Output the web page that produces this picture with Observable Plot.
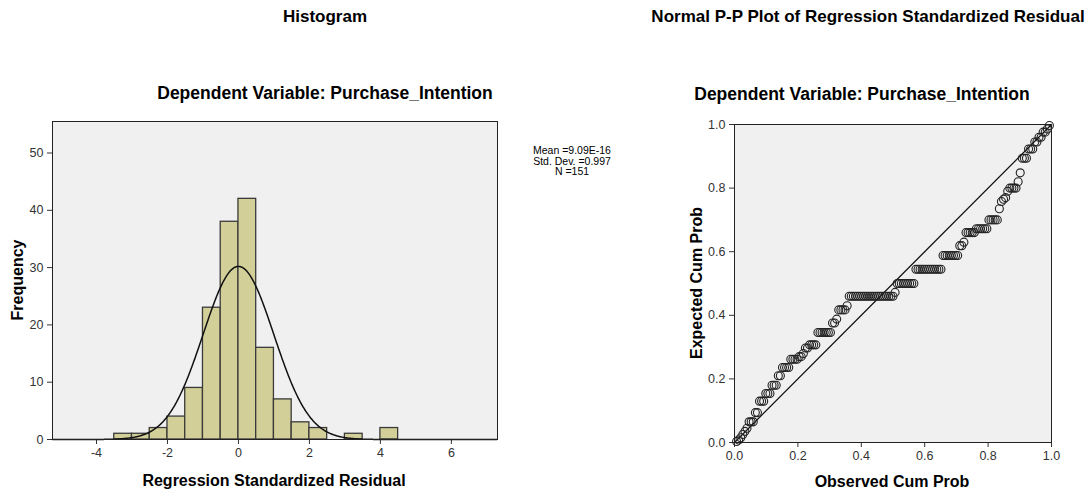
<!DOCTYPE html>
<html><head><meta charset="utf-8">
<script src="https://cdn.jsdelivr.net/npm/d3@7"></script>
<script src="https://cdn.jsdelivr.net/npm/@observablehq/plot@0.6"></script>
<style>
body{margin:0;background:#fff;font-family:"Liberation Sans",Arial,sans-serif;}
#wrap{position:relative;width:1092px;height:491px;overflow:hidden;background:#fff;}
.t{position:absolute;white-space:nowrap;font-weight:bold;color:#000;line-height:1;}
.c{transform:translateX(-50%);}
.r{transform:translate(-50%,-50%) rotate(-90deg);}
.plotbox{position:absolute;}
#legend{position:absolute;left:572px;top:145px;transform:translateX(-50%);text-align:center;font-size:10.5px;line-height:10.5px;color:#000;white-space:nowrap;}
</style></head><body>
<div id="wrap">
  <div class="t c" style="left:325px;top:8px;font-size:17px;">Histogram</div>
  <div class="t c" style="left:868px;top:8px;font-size:17px;">Normal P-P Plot of Regression Standardized Residual</div>
  <div class="t c" style="left:325px;top:85px;font-size:17.5px;">Dependent Variable: Purchase_Intention</div>
  <div class="t c" style="left:862px;top:86px;font-size:17.5px;">Dependent Variable: Purchase_Intention</div>
  <div class="t r" style="left:18px;top:280px;font-size:16px;">Frequency</div>
  <div class="t c" style="left:274px;top:473px;font-size:16px;">Regression Standardized Residual</div>
  <div class="t r" style="left:697px;top:283px;font-size:16px;">Expected Cum Prob</div>
  <div class="t c" style="left:892px;top:474px;font-size:16px;">Observed Cum Prob</div>
  <div id="legend"></div>
  <div id="hist" class="plotbox" style="left:0;top:100px;"></div>
  <div id="pp" class="plotbox" style="left:680px;top:100px;"></div>
</div>
<script>
// ---- Histogram data ----
const binEdges = [-3.5,-3,-2.5,-2,-1.5,-1,-0.5,0,0.5,1,1.5,2,2.5,3,3.5,4,4.5];
const binCounts = [1,1,2,4,9,23,38,42,16,7,3,2,0,1,0,2];
const meanVal = 9.09e-16;
const sdVal = 0.997;
const nVal = 151;
const legendLines = ["Mean =9.09E-16", "Std. Dev. =0.997", "N =151"];
const histXTicks = [-4,-2,0,2,4,6];
const histYTicks = [0,10,20,30,40,50];

// ---- P-P plot data: expected cum prob values (sorted) and how many points share each ----
const ppRunValues = [0.003,0.008,0.015,0.025,0.035,0.045,0.065,0.094,0.13,0.154,0.18,0.21,0.236,0.262,0.27,0.28,0.297,0.307,0.346,0.376,0.388,0.417,0.43,0.46,0.472,0.50,0.545,0.588,0.619,0.63,0.66,0.672,0.70,0.735,0.758,0.765,0.77,0.79,0.80,0.82,0.848,0.894,0.923,0.945,0.96,0.976,0.986,0.997];
const ppRunCounts = [1,1,1,1,1,1,3,2,3,3,3,2,4,4,2,1,2,4,7,2,1,4,1,22,1,9,13,8,2,1,5,6,5,1,1,1,1,1,4,1,1,3,3,2,2,2,1,1];
const ppTicks = [0,0.2,0.4,0.6,0.8,1.0];

document.getElementById("legend").innerHTML = legendLines.join("<br>");

const bins = binCounts.map((c,i)=>({x1:binEdges[i], x2:binEdges[i+1], count:c})).filter(d=>d.count>0);
const binW = binEdges[1]-binEdges[0];
const curve = d3.range(-5.24, 7.3, 0.02).map(x=>({x, y: nVal*binW*Math.exp(-0.5*((x-meanVal)/sdVal)**2)/(sdVal*Math.sqrt(2*Math.PI))}));

const axisStyle = {fontFamily:"'Liberation Sans',Arial,sans-serif", fontSize:"12.5px", color:"#333", background:"transparent", overflow:"visible"};

const hist = Plot.plot({
  width: 520, height: 391,
  marginLeft: 52, marginRight: 23, marginTop: 21, marginBottom: 52,
  style: axisStyle,
  x: {domain: [-5.24, 7.3], ticks: histXTicks, tickSize: 5, tickFormat: d=>String(d), label: null},
  y: {domain: [0, 55.5], ticks: histYTicks, tickSize: 5, label: null},
  marks: [
    Plot.frame({fill:"#f0f0f0"}),
    Plot.rectY(bins, {x1:"x1", x2:"x2", y:"count", fill:"#d3cf98", stroke:"#3a3a3a", strokeWidth:1.3}),
    Plot.line(curve, {x:"x", y:"y", stroke:"#111", strokeWidth:1.5}),
    Plot.frame({stroke:"#222"})
  ]
});
document.getElementById("hist").appendChild(hist);

const ppData = [];
ppRunValues.forEach((v,k)=>{ for(let j=0;j<ppRunCounts[k];j++) ppData.push({exp:v}); });
const nPP = ppData.length;
ppData.forEach((d,i)=>{ d.obs = (i+1)/(nPP+1); });
const diag = [{x:0,y:0},{x:1,y:1}];

const pp = Plot.plot({
  width: 412, height: 391,
  marginLeft: 54, marginRight: 41, marginTop: 24, marginBottom: 49,
  style: axisStyle,
  x: {domain:[0,1], ticks: ppTicks, tickFormat: d3.format(".1f"), tickSize:5, label:null},
  y: {domain:[0,1], ticks: ppTicks, tickFormat: d3.format(".1f"), tickSize:5, label:null},
  marks: [
    Plot.frame({fill:"#f0f0f0"}),
    Plot.line(diag, {x:"x", y:"y", stroke:"#111", strokeWidth:1.3}),
    Plot.dot(ppData, {x:"obs", y:"exp", r:4, stroke:"#222", fill:"none", strokeWidth:1.1}),
    Plot.frame({stroke:"#222"})
  ]
});
document.getElementById("pp").appendChild(pp);
</script>
</body></html>
